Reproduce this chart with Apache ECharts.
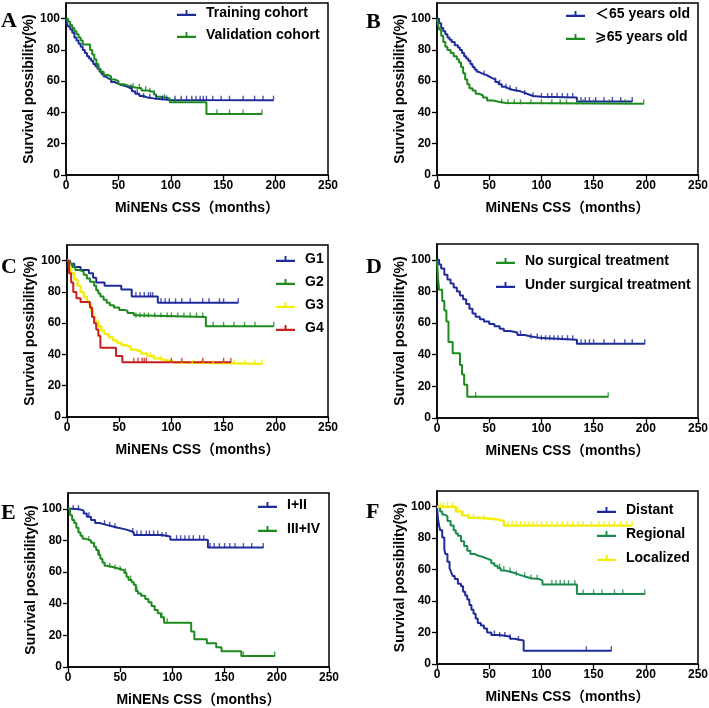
<!DOCTYPE html>
<html><head><meta charset="utf-8">
<script src="https://cdn.jsdelivr.net/npm/echarts@6/dist/echarts.min.js"></script>
<style>html,body{margin:0;padding:0;background:#fff}#c{width:709px;height:708px}</style>
</head><body><div id="c"></div><script>
// ---------- DATA (Kaplan-Meier step points: [months, survival %]) ----------
const xTickLabels = [0, 50, 100, 150, 200, 250];
const yTickLabels = [0, 20, 40, 60, 80, 100];

const aTrainName = 'Training cohort';
const aTrain = [[0,100],[1,97],[2,95],[4,93],[6,91],[8,88],[10,86],[12,84],[14,82],[16,80],[18,78],[20,76],[22,74.5],[24,73],[26,71],[28,69.5],[30,68],[32,66],[34,64.5],[36,63],[38,62],[40,61],[43,59.5],[46,58.5],[50,57.5],[53,57],[56,56],[60,55],[63,53.5],[66,52],[70,50.5],[74,49.5],[78,49],[84,48.5],[92,48],[100,47.8],[198,47.8]];
const aTrainCens = [62,68,74,80,86,92,96,104,110,115,120,124,128,131,134,140,148,156,169,180,188,198];
const aValidName = 'Validation cohort';
const aValid = [[0,100],[2,98],[4,96],[6,94],[8,92],[10,90],[12,88],[14,86],[16,83.5],[23,80],[25,77],[27,74],[29,71],[31,68],[33,66],[36,64],[40,63],[43,61],[47,60],[50,58],[55,57],[60,56],[66,55.5],[72,54],[78,53],[84,51.5],[86,50],[90,49],[99,46.5],[134,39],[187,39]];
const aValidCens = [64,70,76,80,84,94,104,110,120,144,156,169,187];

const bYoungName = '＜65 years old';
const bYoung = [[0,100],[2,97],[4,94],[6,92],[8,90],[10,88],[12,86.5],[14,85],[17,83],[20,81.5],[22,80],[24,78],[26,76],[28,74.5],[30,73],[32,71],[34,69],[36,67.5],[38,66],[40,65],[43,64],[47,63],[50,62],[53,61],[56,59.5],[59,58],[62,56.5],[65,55.5],[68,54.5],[72,54],[76,53.5],[80,52.5],[84,51.5],[88,50.5],[92,50],[100,49.5],[134,47],[187,47]];
const bYoungCens = [45,56,60,66,70,76,84,92,100,106,110,115,120,125,130,138,142,146,152,160,168,176,187];
const bOldName = '⩾65 years old';
const bOld = [[0,100],[1,96],[2,93],[4,89],[6,85],[8,82],[10,80],[13,78],[16,76],[19,74],[21,72],[23,69],[25,65],[27,61],[29,58],[31,55.5],[34,54],[37,52],[40,51],[44,49.5],[48,47.7],[54,47],[58,46],[66,45.5],[198,45.5]];
const bOldCens = [62,68,74,80,90,100,110,118,124,134,140,150,165,180,198];

const cG1 = [[0,100],[3,98],[7,96],[13,94],[21,92],[25,89],[28,86],[36,84],[52,81.5],[62,77],[87,73],[164,73]];
const cG1Cens = [66,70,74,78,80,82,90,94,98,104,110,118,130,136,146,150,164];
const cG2 = [[0,100],[2,98],[5,96],[8,94],[12,93],[16,91],[19,88.5],[22,86.5],[26,84],[28,81],[30,79],[32,77],[35,75],[38,73],[41,71.5],[45,70],[50,68.5],[55,68],[58,66.5],[64,65],[66,64],[133,58],[198,58]];
const cG2Cens = [66,70,74,78,84,90,96,100,106,112,118,124,130,140,150,160,170,180,198];
const cG3 = [[0,100],[2,95],[4,92],[7,88],[10,84],[13,80],[16,77],[19,74],[21,72],[23,68],[25,64],[27,61],[30,58],[33,55],[36,53],[40,51],[44,49],[48,47.5],[52,46],[56,45],[61,43],[66,42],[71,40.5],[77,39],[83,37.5],[88,36.5],[93,36],[98,35],[103,34],[187,34]];
const cG3Cens = [80,90,100,110,120,130,140,150,160,170,180,187];
const cG4 = [[0,100],[2,92],[4,86],[6,80],[9,76],[13,73.5],[22,70],[24,64],[26,60],[28,56],[30,52],[32,44.3],[47,39],[53,35],[157,35]];
const cG4Cens = [64,68,72,74,76,100,110,130,150,157];

const dNoName = 'No surgical treatment';
const dNo = [[0,100],[1,88],[2,81],[5,74],[7,68],[9,61],[11,48],[15,41],[22,33.5],[24,27.5],[26,21],[29,13.5],[164,13.5]];
const dNoCens = [37,164];
const dYesName = 'Under surgical treatment';
const dYes = [[0,100],[2,97],[4,94.5],[7,90.5],[10,87.5],[13,85],[16,82.5],[19,80],[22,77.5],[25,75],[28,72],[31,69],[34,66],[37,64],[41,62.5],[45,61],[50,59.5],[55,58],[60,56.5],[64,55],[70,54],[77,52.5],[84,51.5],[90,50.5],[100,49.5],[134,47],[199,47]];
const dYesCens = [80,90,96,100,104,108,112,116,120,125,130,134,138,142,146,150,160,170,180,187,199];

const eEarlyName = 'I+II';
const eEarly = [[0,100],[5,99.5],[12,99],[15,97],[18,95],[22,93],[26,91],[30,90],[36,89],[42,88],[48,87],[55,86],[60,85],[63,83.5],[90,82.5],[98,80.5],[134,75.5],[187,75.5]];
const eEarlyCens = [5,10,20,35,40,45,62,66,70,75,78,82,86,90,94,104,108,112,116,120,126,130,136,140,145,150,155,160,168,176,187];
const eLateName = 'III+IV';
const eLate = [[0,100],[2,96],[4,93],[6,91],[8,88],[10,85],[12,83],[14,81],[17,80],[22,78.5],[25,76],[27,74],[29,71],[31,68.5],[33,66],[35,64],[37,63],[44,62],[50,61],[54,59.5],[56,57],[58,55],[61,53.5],[63,52],[65,48],[67,46.5],[70,45],[74,43],[77,41],[80,38.5],[83,36],[86,34],[89,31.5],[92,28],[118,22.5],[121,17.5],[133,15],[142,12.5],[147,10],[166,7],[198,7]];
const eLateCens = [20,30,40,45,50,55,60,66,90,95,168,198];

const fDistName = 'Distant';
const fDist = [[0,100],[1,92],[2,88],[3,85],[5,80.5],[7,73],[8,70],[10,65],[12,61],[13.5,58.5],[15,56],[17,54],[20,51],[23,49.5],[25,46],[27,43.5],[29,41],[31,37.5],[33,34.5],[35,32],[37,29],[39,26],[42,24.5],[45,22.5],[48,20],[52,18.5],[60,17.5],[70,16],[74,15],[83,8.5],[167,8.5]];
const fDistCens = [55,60,65,70,78,143,167];
const fRegName = 'Regional';
const fReg = [[0,100],[3,97],[5,95],[7,94],[10,91],[13,88],[16,85],[18,83],[20,81.5],[23,78],[26,75],[29,72],[32,70],[36,69],[39,68],[44,67],[48,66],[52,64],[55,62.5],[58,61],[61,59.5],[65,58.5],[71,57.5],[76,56.5],[80,55.5],[85,54.5],[90,54],[98,53],[101,50.5],[134,44.5],[199,44.5]];
const fRegCens = [60,64,70,76,84,90,96,110,114,118,122,126,132,140,150,158,170,178,199];
const fLocName = 'Localized';
const fLoc = [[0,100],[18,97],[24,94.5],[30,93],[40,92],[57,91],[64,88],[187,88]];
const fLocCens = [3,6,10,15,20,25,30,35,45,68,72,76,80,84,88,92,96,100,105,110,115,120,125,130,135,140,148,155,160,165,170,176,182,187];

// ---------- STYLE ----------
const BLUE = '#1f2b9c', GREEN = '#1c8a1c', GREEN2 = '#1a8c4e', YELLOW = '#f2ee0a', RED = '#c81e1e';
const SANS = "'Liberation Sans','DejaVu Sans','Noto Sans CJK SC'";
const SERIF = "'Liberation Serif','DejaVu Serif'";

const panels = [
  {letter:'A', grid:{left:66,top:3,width:262,height:172}, lt:{left:177,top:6,gap:8},  ttl:{left:1,top:10},
   curves:[[aTrainName,aTrain,aTrainCens,BLUE],[aValidName,aValid,aValidCens,GREEN]]},
  {letter:'B', grid:{left:437,top:3,width:261,height:172}, lt:{left:566,top:7,gap:9}, ttl:{left:366,top:11},
   curves:[[bYoungName,bYoung,bYoungCens,BLUE],[bOldName,bOld,bOldCens,GREEN]]},
  {letter:'C', grid:{left:67,top:245,width:261,height:172}, lt:{left:276,top:252,gap:9}, ttl:{left:1,top:256},
   curves:[['G1',cG1,cG1Cens,BLUE],['G2',cG2,cG2Cens,GREEN],['G3',cG3,cG3Cens,YELLOW],['G4',cG4,cG4Cens,RED]]},
  {letter:'D', grid:{left:437,top:244,width:261,height:174}, lt:{left:496,top:254,gap:10}, ttl:{left:366,top:256},
   curves:[[dNoName,dNo,dNoCens,GREEN],[dYesName,dYes,dYesCens,BLUE]]},
  {letter:'E', grid:{left:68,top:493,width:261,height:174}, lt:{left:258,top:498,gap:10}, ttl:{left:1,top:502},
   curves:[[eEarlyName,eEarly,eEarlyCens,BLUE],[eLateName,eLate,eLateCens,GREEN]]},
  {letter:'F', grid:{left:437,top:491,width:261,height:173}, lt:{left:597,top:503,gap:10}, ttl:{left:366,top:501},
   curves:[[fDistName,fDist,fDistCens,BLUE],[fRegName,fReg,fRegCens,GREEN2],[fLocName,fLoc,fLocCens,YELLOW]]}
];

function survAt(curve, t){
  let s = curve[0][1];
  for (const p of curve){ if (p[0] <= t) s = p[1]; else break; }
  return s;
}

const LEG_ICON = 'path://M0,6L20,6L20,8.2L0,8.2Z M9,2L11,2L11,8L9,8Z';

const option = {
  backgroundColor:'#fff', animation:false,
  title:[], grid:[], xAxis:[], yAxis:[], legend:[], series:[]
};

panels.forEach((p, i) => {
  option.title.push({text:p.letter, left:p.ttl.left, top:p.ttl.top, padding:0,
    textStyle:{fontFamily:SERIF, fontWeight:'bold', fontSize:22, color:'#000'}});
  option.grid.push(Object.assign({show:true, borderColor:'#000', borderWidth:1.5, backgroundColor:'transparent', containLabel:false, outerBoundsMode:'none'}, p.grid));
  option.xAxis.push({type:'value', gridIndex:i, min:0, max:250, interval:50,
    name:'MiNENs CSS（months）', nameLocation:'middle', nameGap:26,
    nameTextStyle:{fontFamily:SANS, fontWeight:'bold', fontSize:14, color:'#000'},
    axisLine:{show:true, onZero:false, lineStyle:{color:'#000', width:1.5}},
    axisTick:{show:true, length:5, lineStyle:{color:'#000', width:1.3}},
    axisLabel:{fontFamily:SANS, fontWeight:'bold', fontSize:12, color:'#000', margin:5,
      formatter:v => xTickLabels.includes(v) ? String(v) : ''},
    splitLine:{show:false}});
  option.yAxis.push({type:'value', gridIndex:i, min:0, max:110, interval:20,
    name:'Survival possibility(%)', nameLocation:'middle', nameGap:28, nameRotate:90,
    nameTextStyle:{fontFamily:SANS, fontWeight:'bold', fontSize:14, color:'#000'},
    axisLine:{show:true, onZero:false, lineStyle:{color:'#000', width:1.5}},
    axisTick:{show:true, length:5, lineStyle:{color:'#000', width:1.3}},
    axisLabel:{fontFamily:SANS, fontWeight:'bold', fontSize:12, color:'#000', margin:6, showMaxLabel:false,
      formatter:v => yTickLabels.includes(v) ? String(v) : ''},
    splitLine:{show:false}});
  option.legend.push({orient:'vertical', left:p.lt.left, top:p.lt.top, itemGap:p.lt.gap,
    itemWidth:19, itemHeight:7, icon:LEG_ICON, padding:0, selectedMode:false,
    textStyle:{fontFamily:SANS, fontWeight:'bold', fontSize:14, color:'#000', padding:[0,0,0,5]},
    data:p.curves.map(c => c[0])});
  p.curves.forEach(c => {
    const [name, data, cens, color] = c;
    option.series.push({type:'line', name, xAxisIndex:i, yAxisIndex:i, data, step:'end',
      symbol:'none', showSymbol:false, color,
      lineStyle:{color, width:color===YELLOW?2.4:2}, itemStyle:{color}, z:2});
    option.series.push({type:'scatter', name, xAxisIndex:i, yAxisIndex:i,
      data:cens.map(t => [t, survAt(data, t)]),
      symbol:'rect', symbolSize:[1.4,5], symbolOffset:[0,-2], color,
      itemStyle:{color}, z:3, silent:true});
  });
});

const chart = echarts.init(document.getElementById('c'), null, {renderer:'canvas'});
chart.setOption(option);
</script></body></html>
